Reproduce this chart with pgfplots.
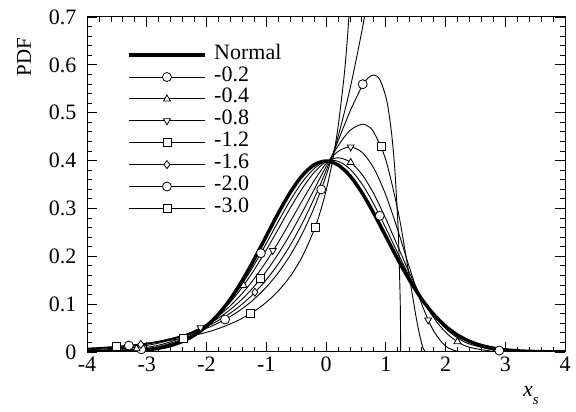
\documentclass[border=0pt]{standalone}
\usepackage{pgfplots}
\pgfplotsset{compat=1.18}
\usepackage{fontspec}
\setmainfont{Liberation Serif}
\usetikzlibrary{calc}
\begin{document}
\begin{tikzpicture}
\begin{axis}[name=ax,
  scale only axis, width=478pt, height=335pt,
  xmin=-4, xmax=4, ymin=0, ymax=0.7,
  xtick={-4,-3,-2,-1,0,1,2,3,4},
  xticklabels={-4,-3,-2,-1,0,1,2,3,4},
  ytick={0,0.1,0.2,0.3,0.4,0.5,0.6,0.7},
  yticklabels={0,0.1,0.2,0.3,0.4,0.5,0.6,0.7},
  minor x tick num=4, minor y tick num=4,
  major tick length=10pt, minor tick length=5pt,
  tick style={black, line width=0.8pt},
  axis line style={line width=1pt},
  tick label style={font=\fontsize{22}{22}\selectfont},
  yticklabel style={xshift=-7pt},
  xticklabel style={yshift=-1pt},
  legend image code/.code={\draw[mark repeat=2,mark phase=2,#1] plot coordinates {(0pt,0pt) (38pt,0pt) (76pt,0pt)};},
  legend style={at={(rel axis cs:0,1)}, anchor=north west, xshift=40pt, yshift=-27pt,
    draw=none, fill=none, inner sep=0pt, row sep=0pt,
    font=\fontsize{22}{22}\selectfont,
    nodes={inner sep=1.5pt, text height=13.5pt, text depth=5.4pt},
    /tikz/every odd column/.append style={column sep=6pt}},
  legend cell align=left,
  every axis plot/.append style={black},
]
\addlegendimage{line width=3.5pt}
\addlegendentry{Normal}
\addlegendimage{line width=0.9pt, mark=*, mark size=4.5pt, mark options={fill=white, line width=0.8pt}}
\addlegendentry{-0.2}
\addlegendimage{line width=0.9pt, mark=triangle*, mark size=4pt, mark options={fill=white, line width=0.8pt}}
\addlegendentry{-0.4}
\addlegendimage{line width=0.9pt, mark=triangle*, mark size=4pt, mark options={fill=white, line width=0.8pt, rotate=180}}
\addlegendentry{-0.8}
\addlegendimage{line width=0.9pt, mark=square*, mark size=4pt, mark options={fill=white, line width=0.8pt}}
\addlegendentry{-1.2}
\addlegendimage{line width=0.9pt, mark=diamond*, mark size=4pt, mark options={fill=white, line width=0.8pt}}
\addlegendentry{-1.6}
\addlegendimage{line width=0.9pt, mark=*, mark size=4.5pt, mark options={fill=white, line width=0.8pt}}
\addlegendentry{-2.0}
\addlegendimage{line width=0.9pt, mark=square*, mark size=4pt, mark options={fill=white, line width=0.8pt}}
\addlegendentry{-3.0}

% skewness -0.2
\addplot[forget plot, line width=0.9pt, smooth] coordinates {
(-4,0.000496) (-3.6,0.00154) (-3.2,0.00437) (-2.8,0.01133) (-2.4,0.02668) (-2.2,0.03942)
(-2.0,0.05670) (-1.8,0.07935) (-1.6,0.10795) (-1.4,0.14259) (-1.2,0.18266) (-1.0,0.22671)
(-0.8,0.27236) (-0.6,0.31625) (-0.4,0.35455) (-0.2,0.38315) (0,0.3986) (0.2,0.39855)
(0.4,0.38243) (0.6,0.35156) (0.8,0.30894) (1.0,0.25912) (1.2,0.20696) (1.4,0.15706)
(1.6,0.11296) (1.8,0.07681) (2.0,0.04923) (2.2,0.02968) (2.4,0.01675) (2.8,0.00433)
(3.2,0.000825) (3.6,0.000111) (4,0.00001)};
% skewness -0.4
\addplot[forget plot, line width=0.9pt, smooth] coordinates {
(-4,0.001097) (-3.6,0.002722) (-3.2,0.006414) (-2.8,0.01427) (-2.4,0.02980) (-2.2,0.04197)
(-2.0,0.05802) (-1.8,0.07865) (-1.6,0.10446) (-1.4,0.13565) (-1.2,0.17212) (-1.0,0.21297)
(-0.8,0.25661) (-0.6,0.30048) (-0.4,0.34122) (-0.2,0.37494) (0,0.3976) (0.2,0.40575)
(0.4,0.39714) (0.6,0.37147) (0.8,0.33062) (1.0,0.27866) (1.2,0.22118) (1.4,0.16427)
(1.6,0.11325) (1.8,0.07186) (2.0,0.04150) (2.2,0.02153) (2.4,0.00989) (2.8,0.00133)
(3.2,0.0000792) (3.6,0) (4,0)};
% skewness -0.8
\addplot[forget plot, line width=0.9pt, smooth] coordinates {
(-4,0.002697) (-3.6,0.005254) (-3.2,0.01000) (-2.8,0.01855) (-2.4,0.03340) (-2.2,0.04424)
(-2.0,0.05806) (-1.8,0.07539) (-1.6,0.09679) (-1.4,0.12273) (-1.2,0.15352) (-1.0,0.18905)
(-0.8,0.22883) (-0.6,0.27174) (-0.4,0.31565) (-0.2,0.35762) (0,0.39370) (0.2,0.41891)
(0.4,0.42840) (0.6,0.41765) (0.8,0.38403) (1.0,0.32822) (1.2,0.25529) (1.4,0.17509)
(1.6,0.10065) (1.8,0.04436) (2.0,0.01250) (2.2,0.00141) (2.4,0.00001) (2.5,0) (4,0)};
% skewness -1.2
\addplot[forget plot, line width=0.9pt, smooth] coordinates {
(-4,0.004340) (-3.6,0.007421) (-3.2,0.01256) (-2.8,0.02100) (-2.4,0.03462) (-2.2,0.04417)
(-2.0,0.05610) (-1.8,0.07087) (-1.6,0.08896) (-1.4,0.11099) (-1.2,0.13737) (-1.0,0.16858)
(-0.8,0.20484) (-0.6,0.24600) (-0.4,0.29131) (-0.2,0.33925) (0,0.38709) (0.2,0.43039)
(0.4,0.46287) (0.6,0.47593) (0.7,0.47198) (0.8,0.45918) (1.0,0.40197) (1.2,0.29755)
(1.3,0.22897) (1.4,0.15355) (1.5,0.07868) (1.55,0.04535) (1.6,0.01823) (1.63,0.00662)
(1.6667,0)};
% skewness -1.6
\addplot[forget plot, line width=0.9pt, smooth] coordinates {
(-4,0.005718) (-3.6,0.009012) (-3.2,0.01416) (-2.8,0.02214) (-2.4,0.03443) (-2.2,0.04284)
(-2.0,0.05317) (-1.8,0.06587) (-1.6,0.08141) (-1.4,0.10034) (-1.2,0.12329) (-1.0,0.15090)
(-0.8,0.18390) (-0.6,0.22283) (-0.4,0.26831) (-0.2,0.32035) (0,0.37838) (0.2,0.44047)
(0.4,0.50220) (0.6,0.55452) (0.7,0.57200) (0.8,0.57898) (0.9,0.56958) (1.0,0.53412)
(1.05,0.50151) (1.1,0.45409) (1.15,0.38478) (1.2,0.27737) (1.22,0.21337) (1.24,0.11794)
(1.245,0.08034) (1.25,0)};
% skewness -2.0
\addplot[forget plot, line width=0.9pt, smooth] coordinates {
(-4,0.006738) (-3.6,0.010052) (-3.2,0.014996) (-2.8,0.022371) (-2.4,0.033373) (-2.0,0.049787)
(-1.8,0.060810) (-1.6,0.074274) (-1.4,0.090718) (-1.2,0.110803) (-1.0,0.135335) (-0.8,0.165299)
(-0.6,0.201897) (-0.4,0.246597) (-0.2,0.301194) (0,0.367879) (0.2,0.449329) (0.4,0.548812)
(0.6,0.670320) (0.7,0.740818)};
% skewness -3.0
\addplot[forget plot, line width=0.9pt, smooth] coordinates {
(-4,0.007933) (-3.6,0.010886) (-3.2,0.015008) (-2.8,0.020823) (-2.4,0.029109) (-2.0,0.041064)
(-1.8,0.049015) (-1.6,0.058696) (-1.4,0.070603) (-1.2,0.085334) (-1.0,0.103842) (-0.8,0.127386)
(-0.6,0.157921) (-0.4,0.198506) (-0.2,0.254577) (-0.1,0.291296) (0,0.33651) (0.1,0.393704)
(0.2,0.468785) (0.3,0.572951) (0.35,0.642649) (0.4,0.730974)};
% normal
\addplot[forget plot, line width=3.5pt, smooth] coordinates {
(-4,0.000134) (-3.8,0.000292) (-3.6,0.000612) (-3.4,0.001232) (-3.2,0.002384) (-3.0,0.004432)
(-2.8,0.007915) (-2.6,0.013583) (-2.4,0.022395) (-2.2,0.035475) (-2.0,0.053991) (-1.8,0.078950)
(-1.6,0.110921) (-1.4,0.149727) (-1.2,0.194186) (-1.0,0.241971) (-0.8,0.289692) (-0.6,0.333225)
(-0.4,0.368270) (-0.2,0.391043) (0,0.398942) (0.2,0.391043) (0.4,0.368270) (0.6,0.333225)
(0.8,0.289692) (1.0,0.241971) (1.2,0.194186) (1.4,0.149727) (1.6,0.110921) (1.8,0.078950)
(2.0,0.053991) (2.2,0.035475) (2.4,0.022395) (2.6,0.013583) (2.8,0.007915) (3.0,0.004432)
(3.2,0.002384) (3.4,0.001232) (3.6,0.000612) (3.8,0.000292) (4,0.000134)};

% markers
\addplot[forget plot, only marks, mark=*, mark size=4.5pt, mark options={fill=white, line width=0.8pt}] coordinates {
(-3.09,0.005589) (-1.09,0.20654) (0.90,0.28462) (2.9,0.002949)};
\addplot[forget plot, only marks, mark=triangle*, mark size=4pt, mark options={fill=white, line width=0.8pt}] coordinates {
(-3.17,0.006823) (-1.38,0.13908) (0.413,0.3960) (2.2,0.02153)};
\addplot[forget plot, only marks, mark=triangle*, mark size=4pt, mark options={fill=white, line width=0.8pt, rotate=180}] coordinates {
(-2.10,0.05074) (-0.89,0.2121) (0.413,0.4284) (1.71,0.0669)};
\addplot[forget plot, only marks, mark=square*, mark size=4pt, mark options={fill=white, line width=0.8pt}] coordinates {
(-1.09,0.1543) (0.92,0.4306)};
\addplot[forget plot, only marks, mark=diamond*, mark size=4pt, mark options={fill=white, line width=0.8pt}] coordinates {
(-3.1,0.01584) (-1.19,0.1248)};
\addplot[forget plot, only marks, mark=*, mark size=4.5pt, mark options={fill=white, line width=0.8pt}] coordinates {
(0.614,0.5595) (-3.30,0.01357) (-1.69,0.0679) (-0.08,0.3396)};
\addplot[forget plot, only marks, mark=square*, mark size=4pt, mark options={fill=white, line width=0.8pt}] coordinates {
(-3.51,0.011701) (-2.39,0.0294) (-1.27,0.0798) (-0.18,0.2613)};
\end{axis}
\node[rotate=90, font=\fontsize{21}{21}\selectfont] at ($(ax.south west)+(-63pt,295pt)$) {PDF};
\node[font=\fontsize{22}{22}\selectfont] at ($(ax.south west)+(444pt,-44pt)$) {\textit{x}\raisebox{-8pt}{\fontsize{15}{15}\selectfont\textit{s}}};
\pgfresetboundingbox
\path[use as bounding box] ($(ax.south west)+(-87pt,-60pt)$) rectangle ($(ax.north east)+(11pt,17pt)$);
\end{tikzpicture}
\end{document}
